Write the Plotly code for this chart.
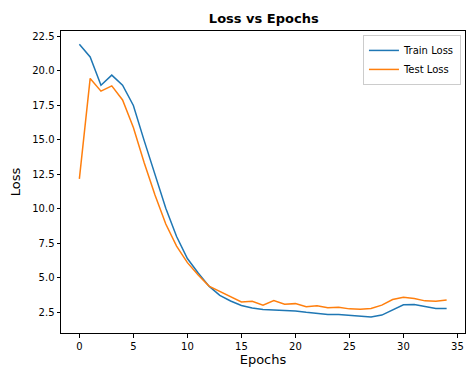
import plotly.graph_objects as go

epochs = list(range(35))
train_loss = [21.94, 21.02, 18.97, 19.7, 18.97, 17.5, 14.95, 12.45, 10.05, 8.0, 6.4,
              5.35, 4.4, 3.73, 3.32, 3.0, 2.82, 2.7, 2.67, 2.67, 2.6, 2.5, 2.42, 2.35,
              2.34, 2.28, 2.22, 2.16, 2.3, 2.65, 3.05, 3.06, 2.9, 2.77, 2.78]
test_loss = [12.18, 19.46, 18.54, 18.92, 17.9, 15.9, 13.35, 11.0, 8.9, 7.3, 6.1,
             5.2, 4.4, 4.02, 3.68, 3.25, 3.3, 3.02, 3.35, 3.08, 3.13, 2.9, 2.98, 2.84,
             2.86, 2.75, 2.72, 2.78, 3.02, 3.43, 3.6, 3.5, 3.33, 3.3, 3.4]

fig = go.Figure()
fig.add_trace(go.Scatter(x=epochs, y=train_loss, mode="lines", name="Train Loss",
                         line=dict(color="#1f77b4", width=1.5)))
fig.add_trace(go.Scatter(x=epochs, y=test_loss, mode="lines", name="Test Loss",
                         line=dict(color="#ff7f0e", width=1.5)))

axis_common = dict(showline=True, linecolor="black", linewidth=1, mirror=True,
                   ticks="outside", ticklen=3.5, tickwidth=0.8, tickcolor="black",
                   showgrid=False, zeroline=False, automargin=False,
                   tickfont=dict(family="DejaVu Sans", size=10, color="black"))

fig.update_layout(
    width=466, height=367,
    margin=dict(l=61, r=1, t=31, b=34, autoexpand=False),
    paper_bgcolor="white", plot_bgcolor="white",
    title=dict(text="<b>Loss vs Epochs</b>", x=0.566, xanchor="center", y=0.951, yanchor="middle",
               font=dict(family="DejaVu Sans", size=13, color="black")),
    xaxis=dict(range=[-1.7, 35.7], tickvals=[0, 5, 10, 15, 20, 25, 30, 35],
               title=dict(text="Epochs", standoff=4, font=dict(family="DejaVu Sans", size=13, color="black")),
               **axis_common),
    yaxis=dict(range=[1.0, 22.9], tickvals=[2.5, 5, 7.5, 10, 12.5, 15, 17.5, 20, 22.5],
               ticktext=["2.5", "5.0", "7.5", "10.0", "12.5", "15.0", "17.5", "20.0", "22.5"],
               title=dict(text="Loss", standoff=8, font=dict(family="DejaVu Sans", size=13, color="black")),
               **axis_common),
    legend=dict(x=0.99, y=0.987, xanchor="right", yanchor="top",
                bgcolor="rgba(255,255,255,0.8)", bordercolor="#cccccc", borderwidth=1,
                font=dict(family="DejaVu Sans", size=10, color="black"),
                tracegroupgap=0, itemwidth=30),
    showlegend=True,
)

fig.write_html("out.html",
               config={"displayModeBar": False},
               post_script="document.body.style.margin='0';document.body.style.overflow='hidden';")
